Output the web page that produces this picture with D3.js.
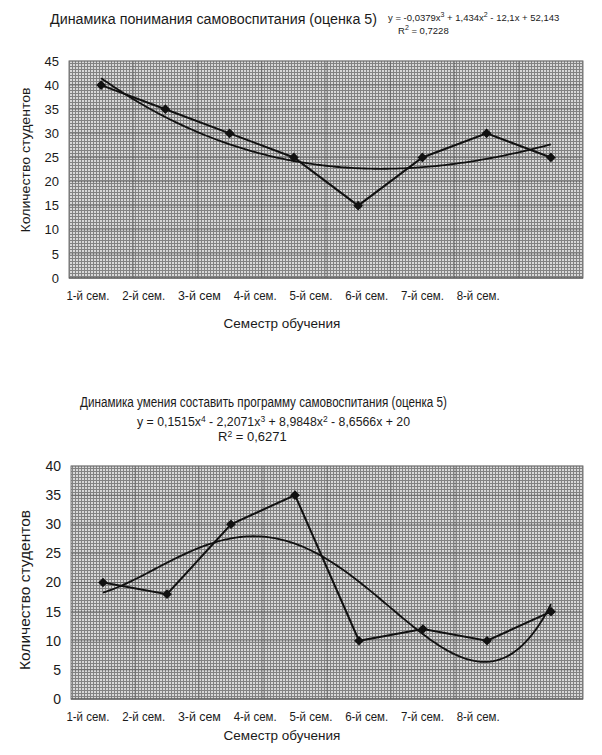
<!DOCTYPE html>
<html><head><meta charset="utf-8">
<script src="https://cdn.jsdelivr.net/npm/d3@7"></script>
<style>body{margin:0;background:#fff}svg{display:block}text{font-family:"Liberation Sans",Arial,sans-serif;fill:#1a1a1a}</style>
</head><body><svg id="c" width="602" height="755"></svg>
<script>
const categories = ["1-й сем.","2-й сем.","3-й сем","4-й сем.","5-й сем.","6-й сем.","7-й сем.","8-й сем."];
const values1 = [40,35,30,25,15,25,30,25];
const values2 = [20,18,30,35,10,12,10,15];
const trendCoef1 = [52.143,-12.1,1.434,-0.0379];          // c0 + c1 x + c2 x^2 + c3 x^3
const trendCoef2 = [20,-8.6566,8.9848,-2.2071,0.1515];
const yTicks1 = [0,5,10,15,20,25,30,35,40,45];
const yTicks2 = [0,5,10,15,20,25,30,35,40];
const title1 = "Динамика понимания самовоспитания (оценка 5)";
const title2 = "Динамика умения составить программу самовоспитания (оценка 5)";
const yTitle = "Количество студентов";
const xTitle = "Семестр обучения";

const svg = d3.select("#c");
const defs = svg.append("defs");
const pat = defs.append("pattern").attr("id","mesh").attr("width",3).attr("height",3).attr("patternUnits","userSpaceOnUse");
pat.append("rect").attr("width",3).attr("height",3).attr("fill","#d8d8d8");
pat.append("rect").attr("width",3).attr("height",1).attr("fill","#828282");
pat.append("rect").attr("width",1).attr("height",3).attr("fill","#828282");

function poly(c, x){ return c.reduce((s,v,i)=>s+v*Math.pow(x,i),0); }

function chart(o){
  const g = svg.append("g");
  const x = d3.scaleBand().domain(categories).range([o.left,o.right]);
  const xl = d3.scaleBand().domain(categories).range([60,506]);
  const xn = d3.scaleLinear().domain([0.5,8.5]).range([o.left,o.right]);
  const y = d3.scaleLinear().domain([0,o.max]).range([o.bottom,o.top]);
  g.append("rect").attr("x",o.left).attr("y",o.top).attr("width",o.right-o.left).attr("height",o.bottom-o.top).attr("fill","url(#mesh)");
  g.append("g").selectAll("line").data(o.ticks).join("line")
    .attr("x1",o.left).attr("x2",o.right).attr("y1",d=>y(d)).attr("y2",d=>y(d))
    .attr("stroke","#444").attr("stroke-width",0.8).attr("opacity",0.55);
  g.append("g").selectAll("line").data(categories.slice(1)).join("line")
    .attr("x1",d=>x(d)).attr("x2",d=>x(d)).attr("y1",o.top).attr("y2",o.bottom)
    .attr("stroke","#444").attr("stroke-width",0.8).attr("opacity",0.55);
  g.append("rect").attr("x",o.left).attr("y",o.top).attr("width",o.right-o.left).attr("height",o.bottom-o.top)
    .attr("fill","none").attr("stroke","#777").attr("stroke-width",1);
  g.append("line").attr("x1",o.left).attr("x2",o.right).attr("y1",o.bottom).attr("y2",o.bottom).attr("stroke","#555").attr("stroke-width",1.2);
  const ya = g.append("g").attr("transform",`translate(${o.left},0)`).call(d3.axisLeft(y).tickValues(o.ticks).tickSize(0).tickPadding(10));
  ya.select(".domain").remove();
  ya.selectAll("text").attr("font-size",o.yfs).attr("fill","#1a1a1a").style("font-family","'Liberation Sans',Arial,sans-serif");
  const xa = g.append("g").attr("transform",`translate(0,${o.bottom})`).call(d3.axisBottom(xl).tickSize(0).tickPadding(o.xpad));
  xa.select(".domain").remove();
  xa.selectAll("text").attr("font-size",13).attr("fill","#1a1a1a").style("font-family","'Liberation Sans',Arial,sans-serif")
    .attr("textLength",43).attr("lengthAdjust","spacingAndGlyphs");
  g.append("text").attr("x",282).attr("y",o.xTitleY).attr("text-anchor","middle").attr("font-size",13.5).text(xTitle);
  g.append("text").attr("transform",`translate(${o.yTitleX},${o.yTitleY}) rotate(-90)`).attr("text-anchor","middle")
    .attr("font-size",o.ytfs).attr("textLength",o.ytLen).attr("lengthAdjust","spacingAndGlyphs").text(yTitle);
  const tx = d3.range(1,8.0001,0.05);
  g.append("path").datum(tx).attr("fill","none").attr("stroke","#111").attr("stroke-width",1.8)
    .attr("d",d3.line().x(d=>xn(d)).y(d=>y(poly(o.coef,d))));
  g.append("path").datum(o.values).attr("fill","none").attr("stroke","#111").attr("stroke-width",2)
    .attr("d",d3.line().x((d,i)=>x(categories[i])+x.bandwidth()/2).y(d=>y(d)));
  g.append("g").selectAll("path").data(o.values).join("path")
    .attr("transform",(d,i)=>`translate(${x(categories[i])+x.bandwidth()/2},${y(d)})`)
    .attr("d",d3.symbol(d3.symbolDiamond2,60)()).attr("fill","#111");
  return g;
}

chart({left:69,right:583,top:61,bottom:278,max:45,ticks:yTicks1,values:values1,coef:trendCoef1,xpad:13,xTitleY:328,yTitleX:30,yTitleY:160,yfs:13,ytfs:13.5,ytLen:145});
chart({left:71,right:583,top:466,bottom:699,max:40,ticks:yTicks2,values:values2,coef:trendCoef2,xpad:13,xTitleY:740,yTitleX:30,yTitleY:590,yfs:14,ytfs:14.5,ytLen:160});

svg.append("text").attr("x",50).attr("y",24).attr("font-size",14).attr("textLength",327).attr("lengthAdjust","spacingAndGlyphs").text(title1);
const eq1 = svg.append("text").attr("x",388).attr("y",21).attr("font-size",9.5);
eq1.append("tspan").text("y = -0,0379x");
eq1.append("tspan").attr("dy",-4).attr("font-size",7).text("3");
eq1.append("tspan").attr("dy",4).text(" + 1,434x");
eq1.append("tspan").attr("dy",-4).attr("font-size",7).text("2");
eq1.append("tspan").attr("dy",4).text(" - 12,1x + 52,143");
const r1 = svg.append("text").attr("x",398).attr("y",34).attr("font-size",9.5);
r1.append("tspan").text("R");
r1.append("tspan").attr("dy",-4).attr("font-size",7).text("2");
r1.append("tspan").attr("dy",4).text(" = 0,7228");

svg.append("text").attr("x",80).attr("y",407).attr("font-size",14).attr("textLength",367).attr("lengthAdjust","spacingAndGlyphs").text(title2);
const eq2 = svg.append("text").attr("x",137).attr("y",426).attr("font-size",12.3);
eq2.append("tspan").text("y = 0,1515x");
eq2.append("tspan").attr("dy",-4.5).attr("font-size",8.5).text("4");
eq2.append("tspan").attr("dy",4.5).text(" - 2,2071x");
eq2.append("tspan").attr("dy",-4.5).attr("font-size",8.5).text("3");
eq2.append("tspan").attr("dy",4.5).text(" + 8,9848x");
eq2.append("tspan").attr("dy",-4.5).attr("font-size",8.5).text("2");
eq2.append("tspan").attr("dy",4.5).text(" - 8,6566x + 20");
const r2 = svg.append("text").attr("x",218).attr("y",441).attr("font-size",13);
r2.append("tspan").text("R");
r2.append("tspan").attr("dy",-4.5).attr("font-size",8.5).text("2");
r2.append("tspan").attr("dy",4.5).text(" = 0,6271");
</script></body></html>
